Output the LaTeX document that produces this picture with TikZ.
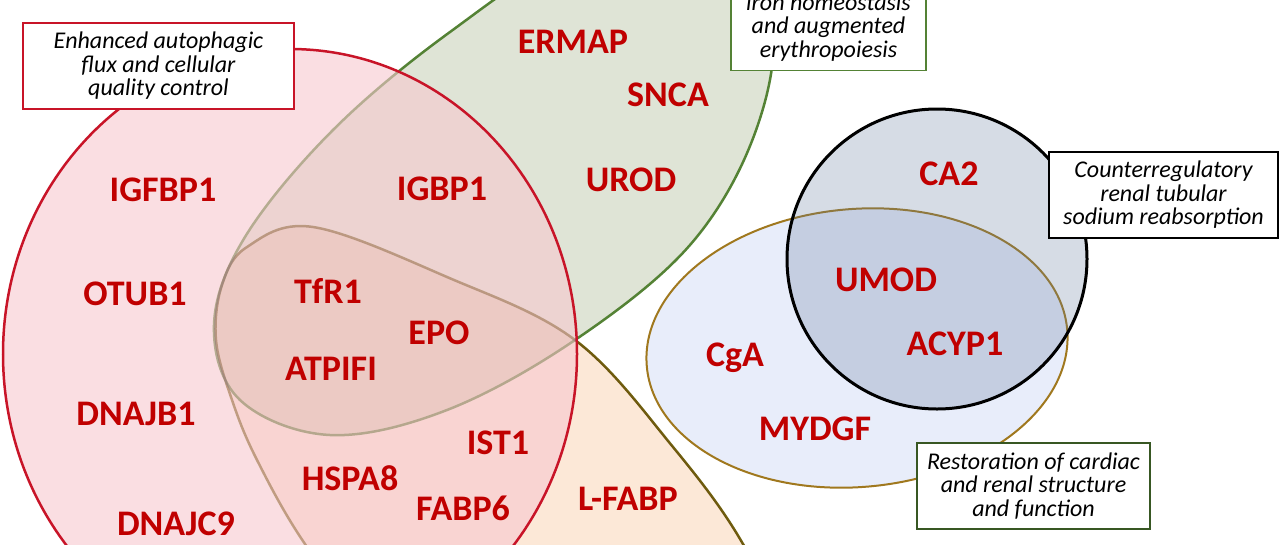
\documentclass[tikz,border=0pt]{standalone}
\usepackage{fontspec}
\setmainfont{Carlito}
\definecolor{genered}{RGB}{192,0,0}
\definecolor{vennred}{RGB}{200,20,40}
\definecolor{redfill}{RGB}{247,200,207}
\definecolor{venngreen}{RGB}{84,130,53}
\definecolor{greenfill}{RGB}{223,228,214}
\definecolor{vennolive}{RGB}{112,96,16}
\definecolor{olivefill}{RGB}{252,232,215}
\definecolor{ringgold}{RGB}{160,120,30}
\definecolor{ringfill}{RGB}{232,237,250}
\definecolor{discfill}{RGB}{97,120,155}
\definecolor{notegreen}{RGB}{56,87,35}

\begin{document}
\begin{tikzpicture}[x=1pt,y=-1pt,
  gene/.style={anchor=base,inner sep=0pt,text=genered,font=\bfseries\fontsize{36}{40}\selectfont},
  note/.style={draw,fill=white,line width=1.2pt,align=center,minimum height=86pt,inner sep=4pt,font=\itshape\fontsize{24}{23.5}\selectfont}]
    \useasboundingbox (0,0) rectangle (1280,544);
    \clip (0,0) rectangle (1280,544);

    \draw[venngreen,line width=2.5pt,fill=greenfill] plot[smooth cycle,tension=0.6] coordinates
      {(575,340) (447,410) (330,435) (240,400) (214,325) (245,237) (333,130) (450,32) (580,-50) (720,-70) (772,20) (755,133) (690,245)};
    \begin{scope}[blend mode=multiply]
    \draw[vennolive,line width=2.5pt,fill=olivefill] plot[smooth cycle,tension=0.6] coordinates
      {(575,340) (673,447) (743,544) (790,650) (600,700) (380,640) (305,544) (257,460) (232,400) (216,340) (222,285) (247,247) (313,227) (447,277)};
    \end{scope}
    \draw[vennred,line width=2.5pt,fill=redfill,fill opacity=0.6] (290,354) ellipse [x radius=287,y radius=305];

    \draw[ringgold,line width=2pt,fill=ringfill,rotate around={5:(857,348)}] (857,348) ellipse [x radius=211,y radius=139];
    \draw[black,line width=3pt,fill=discfill,fill opacity=0.26] (937,259) circle [radius=150];

    \foreach \id/\px/\py/\txt in {igfbp/163/201/IGFBP1,otub/135/305/OTUB1,dnajb/136/425/DNAJB1,dnajc/176/535/DNAJC9,
      igbp/442/200/IGBP1,tfr/328/303/TfR1,epo/439/344/EPO,atpifi/331/380/ATPIFI,ist/498/454/IST1,hspa/350/490/HSPA8,
      fabp/463/520/FABP6,lfabp/628/510/L-FABP,ermap/573/53/ERMAP,snca/668/106/SNCA,urod/631/191/UROD,
      ca/949/185/CA2,umod/886/291/UMOD,acyp/955/355/ACYP1,cga/735/366/CgA,mydgf/815/440/MYDGF}
      \node[gene] (\id) at (\px,\py) {\txt};

    \node[note,draw=vennred,minimum width=271pt] (autophagy) at (158.5,66) {Enhanced autophagic\\flux and cellular\\quality control};
    \node[note,draw=venngreen,minimum width=195pt,anchor=south] (iron) at (828.5,71) {iron homeostasis\\and augmented\\erythropoiesis};
    \node[note,minimum width=229pt] (sodium) at (1163.5,195) {Counterregulatory\\renal tubular\\sodium reabsorption};
    \node[note,draw=notegreen,minimum width=233pt] (repair) at (1033.5,486) {Restoration of cardiac\\and renal structure\\and function};
\end{tikzpicture}
\end{document}
